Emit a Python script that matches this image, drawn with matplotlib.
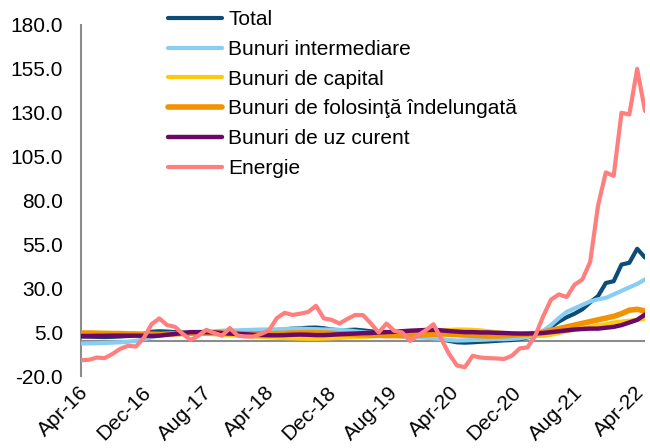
import matplotlib
matplotlib.use("Agg")
import matplotlib.pyplot as plt
import matplotlib.transforms as mtransforms
import numpy as np

plt.rcParams['font.family'] = ['Liberation Sans', 'DejaVu Sans']

# Monthly data, Apr-16 .. Apr-22 (73 months)
tick_labels = ["Apr-16", "Dec-16", "Aug-17", "Apr-18", "Dec-18", "Aug-19",
               "Apr-20", "Dec-20", "Aug-21", "Apr-22"]

total = [2.5, 2.4, 2.3, 2.2, 2.3, 2.5, 2.8, 3.2,
         4.0, 5.2, 5.5, 5.3, 5.0, 4.8, 4.5, 4.6,
         4.8, 5.0, 5.2, 5.0, 5.1, 5.3, 5.5, 5.6,
         5.8, 6.0, 6.5, 7.0, 7.2, 7.5, 7.6, 7.2,
         6.5, 6.0, 6.2, 6.4, 6.0, 5.5, 5.0, 4.5,
         4.0, 3.5, 3.2, 3.0, 2.8, 2.0, 1.0, 0.0,
         -0.8, -1.0, -0.8, -0.5, -0.3, 0.0, 0.3, 0.5,
         1.0, 2.0, 3.0, 5.0, 8.0, 11.0, 13.5, 15.5,
         18.0, 22.0, 25.5, 33.0, 34.0, 43.5, 44.5, 52.5, 47.5]

intermediare = [-1.5, -1.4, -1.3, -1.2, -1.0, -0.8, -0.5, 0.0,
                1.0, 2.0, 3.0, 3.8, 4.3, 4.5, 4.8, 5.0,
                5.3, 5.5, 5.8, 6.0, 6.0, 6.2, 6.3, 6.5,
                6.5, 6.6, 6.8, 7.0, 7.0, 6.8, 6.7, 6.5,
                6.5, 6.3, 6.0, 5.5, 5.0, 4.5, 4.0, 3.5,
                3.0, 2.5, 2.2, 2.0, 1.8, 1.5, 1.0, 0.5,
                0.2, 0.3, 0.5, 0.6, 0.8, 1.0, 1.0, 1.2,
                1.5, 2.2, 3.2, 5.7, 9.0, 13.0, 16.5, 18.5,
                20.5, 22.5, 23.7, 24.5, 26.5, 28.5, 30.5, 32.5, 35.0]

capital = [4.0, 4.0, 3.8, 3.7, 3.5, 3.5, 3.4, 3.5,
           3.5, 3.6, 3.8, 4.0, 4.2, 4.3, 4.5, 4.3,
           4.0, 3.8, 3.5, 3.2, 3.0, 2.8, 2.5, 2.3,
           2.0, 1.8, 1.6, 1.5, 1.3, 1.2, 1.2, 1.3,
           1.5, 1.7, 2.0, 2.2, 2.3, 2.5, 2.8, 3.2,
           3.5, 4.0, 4.5, 5.0, 5.5, 5.8, 6.0, 6.2,
           6.5, 6.5, 6.3, 6.0, 5.5, 5.0, 4.5, 4.0,
           3.5, 3.0, 2.8, 2.9, 3.5, 4.5, 5.5, 6.5,
           7.0, 8.0, 9.0, 9.5, 10.5, 11.0, 11.5, 12.0, 12.5]

folosinta = [4.5, 4.5, 4.4, 4.3, 4.2, 4.2, 4.0, 4.0,
             3.8, 3.8, 3.7, 3.8, 4.0, 4.2, 4.3, 4.5,
             4.5, 4.6, 4.5, 4.3, 4.2, 4.0, 4.0, 4.0,
             4.0, 4.2, 4.3, 4.5, 4.6, 4.7, 4.6, 4.5,
             4.3, 4.0, 3.8, 3.6, 3.5, 3.3, 3.2, 3.0,
             3.0, 3.0, 3.0, 3.2, 3.5, 3.8, 4.0, 3.8,
             3.5, 3.3, 3.2, 3.0, 2.8, 2.8, 3.0, 3.2,
             3.5, 3.8, 4.2, 5.0, 6.0, 7.0, 8.0, 9.0,
             10.0, 11.0, 12.0, 13.0, 14.0, 15.5, 17.5, 18.0, 17.0]

uz_curent = [2.8, 2.8, 2.9, 2.9, 3.0, 3.0, 3.0, 3.0,
             2.9, 2.8, 3.0, 3.5, 4.0, 4.5, 5.0, 5.0,
             5.0, 4.8, 4.5, 4.2, 4.0, 3.8, 3.5, 3.3,
             3.2, 3.2, 3.3, 3.5, 3.6, 3.5, 3.3, 3.3,
             3.5, 3.8, 4.0, 4.2, 4.4, 4.5, 4.8, 5.0,
             5.2, 5.5, 5.8, 6.0, 6.2, 6.3, 6.0, 5.6,
             5.3, 5.0, 5.0, 4.8, 4.8, 4.6, 4.5, 4.3,
             4.2, 4.2, 4.3, 4.5, 5.0, 5.5, 6.0, 6.5,
             6.8, 7.0, 7.0, 7.5, 8.0, 9.0, 10.5, 12.0, 15.0]

energie = [-11.0, -10.8, -9.5, -9.8, -7.5, -4.5, -2.8, -3.2,
           1.5, 9.5, 12.8, 9.0, 8.0, 4.0, 0.5, 3.0,
           6.3, 4.5, 3.0, 7.3, 3.0, 2.5, 2.5, 4.0,
           6.0, 13.0, 16.0, 14.8, 15.5, 16.5, 20.0, 12.8,
           12.0, 9.9, 12.5, 14.8, 14.7, 10.0, 4.8, 9.9,
           5.7, 4.8, 0.0, 3.0, 6.0, 9.5, 1.0, -7.5,
           -14.0, -15.0, -8.5, -9.5, -9.8, -10.0, -10.3, -8.5,
           -4.3, -3.7, 3.0, 14.0, 23.5, 26.5, 25.0, 32.0,
           35.0, 45.0, 77.0, 96.0, 94.0, 130.0, 129.0, 155.0, 131.0]

series = [
    ("Total", total, "#0E4C78", 3.0),
    ("Bunuri intermediare", intermediare, "#87CEF2", 3.0),
    ("Bunuri de capital", capital, "#FFC90E", 3.0),
    ("Bunuri de folosinţă îndelungată", folosinta, "#F39200", 4.0),
    ("Bunuri de uz curent", uz_curent, "#6B0A66", 3.2),
    ("Energie", energie, "#FF7F7F", 3.0),
]

fig = plt.figure(figsize=(6.5, 4.48), dpi=100)
ax = fig.add_axes([81/650, 1 - 376/448, (645 - 81)/650, (376 - 25)/448])

for name, vals, color, lw in series:
    x = np.arange(len(vals))
    ax.plot(x, vals, color=color, lw=lw, label=name, solid_capstyle='round',
            solid_joinstyle='round', zorder=3)

ax.axhline(0, color="#8C8C8C", lw=1.5, zorder=1)

ax.set_xlim(0, 72)
ax.set_ylim(-20, 180)
yt = np.arange(-20, 181, 25)
ax.set_yticks(yt)
ax.set_yticklabels([f"{v:.1f}" for v in yt], fontsize=15)
ax.tick_params(axis='y', length=0, pad=13)

xt = np.arange(0, 73, 8)
ax.set_xticks(xt)
ax.set_xticklabels(tick_labels, fontsize=15, rotation=45, ha='right',
                   va='top', rotation_mode='anchor')
ax.tick_params(axis='x', length=0, pad=5)
for k, lab in enumerate(ax.get_xticklabels()):
    dx = (-2 - 0.9 * k) / 100
    offset = mtransforms.ScaledTranslation(dx, 0, fig.dpi_scale_trans)
    lab.set_transform(lab.get_transform() + offset)

for s in ['top', 'right', 'bottom']:
    ax.spines[s].set_visible(False)
ax.spines['left'].set_color("#8C8C8C")
ax.spines['left'].set_linewidth(1.5)

leg = fig.legend(loc='upper left', bbox_to_anchor=(168/650, 1 - 10/448),
                 frameon=False, fontsize=15, handlelength=2.6,
                 handletextpad=0.3, labelspacing=0.52, borderpad=0,
                 borderaxespad=0)

fig.savefig("out.png", dpi=100)
